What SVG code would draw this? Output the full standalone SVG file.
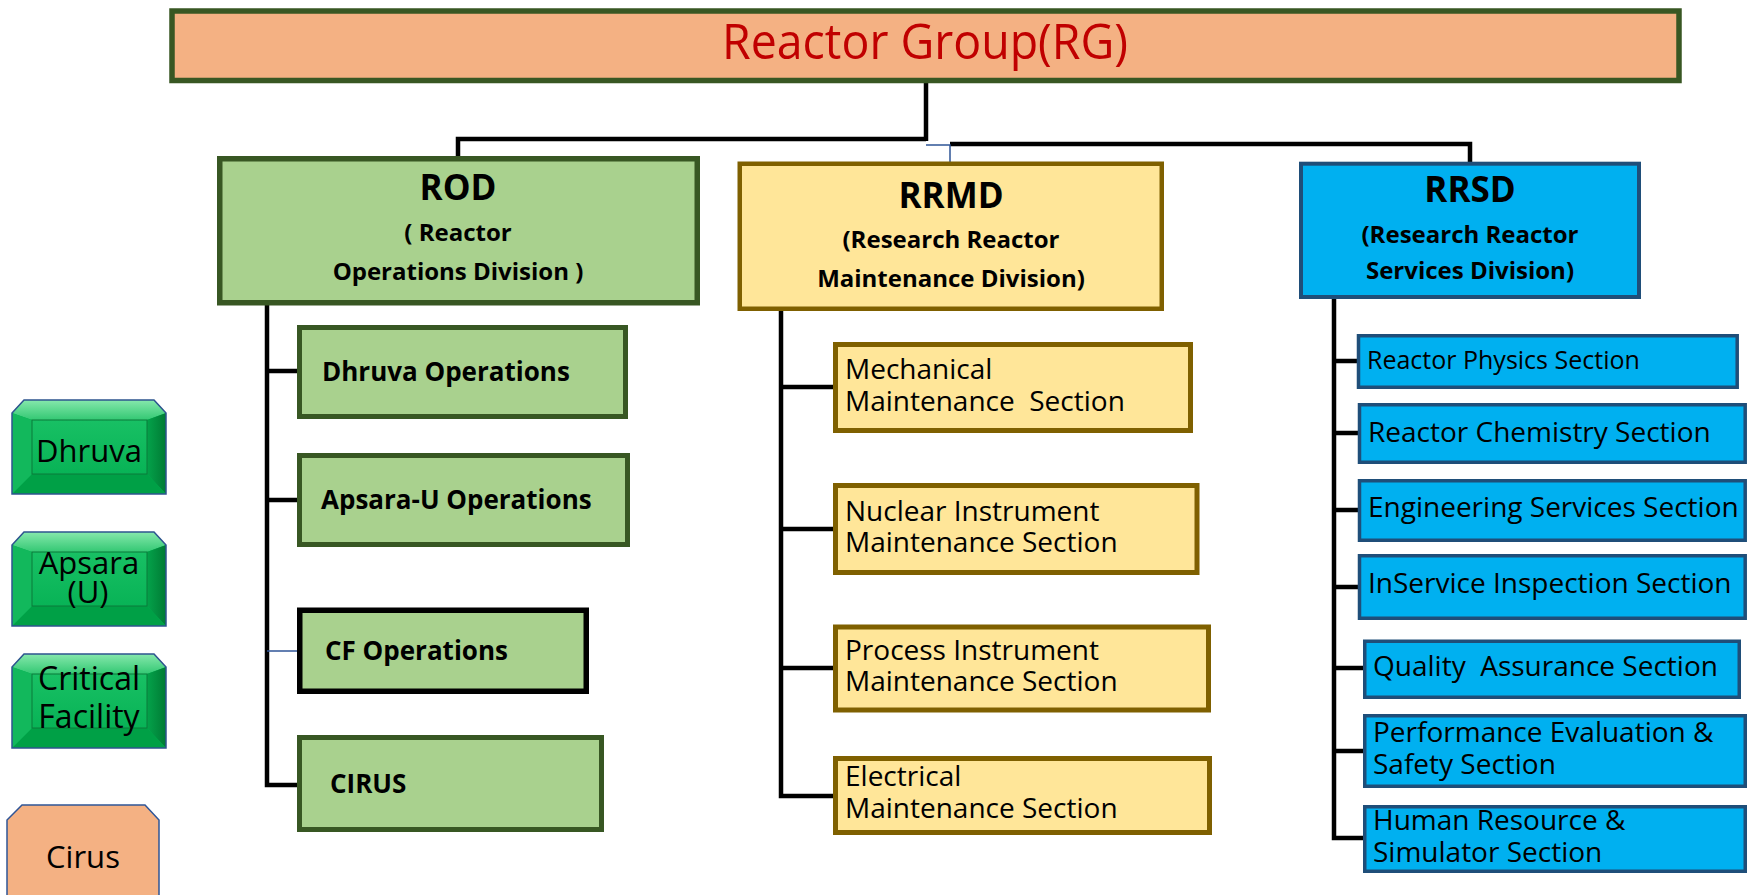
<svg xmlns="http://www.w3.org/2000/svg" xmlns:xlink="http://www.w3.org/1999/xlink" width="1748" height="895" viewBox="0 0 1748 895">
<style>
text{font-family:"Open Sans","Noto Sans","Liberation Sans",sans-serif;fill:#000}
.b{font-weight:700}
.hd{font-size:35px;font-weight:700;text-anchor:middle}
.sub{font-size:24px;font-weight:700;text-anchor:middle}
.rod{fill:#A9D18E;stroke:#385723;stroke-width:5}
.rrmd{fill:#FFE699;stroke:#7F6000;stroke-width:5}
.rrsd{fill:#00B0F0;stroke:#1F4E79;stroke-width:3.5}
.op{font-size:26px;font-weight:700}
.mt{font-size:28px}
.sv{font-size:28px}
.lg{text-anchor:middle}
.con{fill:none;stroke:#000;stroke-width:4.5}
.conb{fill:none;stroke:#2F5597;stroke-width:1.5}
</style>
<defs>
<linearGradient id="gtop" x1="0" y1="0" x2="0" y2="1">
<stop offset="0" stop-color="#86E8AC"/><stop offset="1" stop-color="#33C873"/>
</linearGradient>
<linearGradient id="gface" x1="0" y1="0" x2="0" y2="1">
<stop offset="0" stop-color="#18C064"/><stop offset="1" stop-color="#08B356"/>
</linearGradient>
<linearGradient id="gright" x1="0" y1="0" x2="1" y2="0">
<stop offset="0" stop-color="#04A24A"/><stop offset="1" stop-color="#007A34"/>
</linearGradient>
<g id="bevel">
<polygon points="12,0 142,0 154,13 154,94 0,94 0,13" fill="#00B050"/>
<polygon points="12,0 142,0 154,13 135,20 20,20 0,13" fill="url(#gtop)"/>
<polygon points="154,13 154,94 135,74 135,20" fill="url(#gright)"/>
<polygon points="0,94 154,94 135,74 20,74" fill="#00A046"/>
<polygon points="0,13 20,20 20,74 0,94" fill="#12B85C"/>
<rect x="20" y="20" width="115" height="54" fill="url(#gface)" stroke="#0B7A3B" stroke-width="1"/>
<polygon points="12,0 142,0 154,13 154,94 0,94 0,13" fill="none" stroke="#2E548F" stroke-width="1.5"/>
</g>
</defs>
<rect width="1748" height="895" fill="#fff"/>

<g id="connectors">
<path class="con" d="M926 83 V141 M926 139 H458 V157"/>
<path class="con" d="M950 144 H1470 V163"/>
<path class="conb" d="M926 145 H950 V162"/>
<path class="con" d="M267 305 V785 H298 M267 371 H298 M267 500 H298"/>
<path class="conb" d="M267 651 H298"/>
<path class="con" d="M781 311 V796 H834 M781 387 H834 M781 529 H834 M781 668 H834"/>
<path class="con" d="M1334 299 V838 H1364 M1334 361 H1358 M1334 433 H1359 M1334 510 H1359 M1334 587 H1359 M1334 668 H1364 M1334 751 H1364"/>
</g>

<g id="rg">
<rect x="172" y="11" width="1507" height="69.5" fill="#F4B183" stroke="#385723" stroke-width="5.5"/>
<text x="925" y="59" font-size="50" text-anchor="middle" textLength="406" lengthAdjust="spacingAndGlyphs" style="fill:#C00000">Reactor Group(RG)</text>
</g>

<g id="rod">
<rect class="rod" x="219.75" y="158.75" width="477.5" height="144" style="stroke-width:5.5"/>
<text class="hd" x="458" y="200">ROD</text>
<text class="sub" x="458" y="241" xml:space="preserve">( Reactor</text>
<text class="sub" x="458" y="280">Operations Division )</text>
</g>

<g id="rrmd">
<rect class="rrmd" x="739.75" y="163.75" width="422" height="145" style="stroke-width:4.5"/>
<text class="hd" x="951" y="208">RRMD</text>
<text class="sub" x="951" y="248">(Research Reactor</text>
<text class="sub" x="951" y="287">Maintenance Division)</text>
</g>

<g id="rrsd">
<rect class="rrsd" x="1301" y="163.7" width="338" height="133.3" style="stroke-width:4"/>
<text class="hd" x="1470" y="202">RRSD</text>
<text class="sub" x="1470" y="243">(Research Reactor</text>
<text class="sub" x="1470" y="279">Services Division)</text>
</g>

<g id="dhruva-ops">
<rect class="rod" x="299.5" y="327.5" width="326" height="89"/>
<text class="op" x="322" y="381">Dhruva Operations</text>
</g>
<g id="apsara-ops">
<rect class="rod" x="299.5" y="455.5" width="328" height="89"/>
<text class="op" x="321" y="509">Apsara-U Operations</text>
</g>
<g id="cf-ops">
<rect class="rod" x="299.75" y="610.25" width="286.5" height="81" style="stroke:#000;stroke-width:5.5"/>
<text class="op" x="325" y="660">CF Operations</text>
</g>
<g id="cirus-ops">
<rect class="rod" x="299.5" y="737.5" width="302" height="92"/>
<text class="op" x="330" y="793">CIRUS</text>
</g>

<g id="mech">
<rect class="rrmd" x="835.5" y="344.5" width="355" height="86"/>
<text class="mt" x="845" y="379">Mechanical</text>
<text class="mt" x="845" y="411" xml:space="preserve">Maintenance  Section</text>
</g>
<g id="nuclear">
<rect class="rrmd" x="835.5" y="485.5" width="361.5" height="87"/>
<text class="mt" x="845" y="521">Nuclear Instrument</text>
<text class="mt" x="845" y="552">Maintenance Section</text>
</g>
<g id="process">
<rect class="rrmd" x="835.5" y="627" width="373" height="83"/>
<text class="mt" x="845" y="660">Process Instrument</text>
<text class="mt" x="845" y="691">Maintenance Section</text>
</g>
<g id="electrical">
<rect class="rrmd" x="835.5" y="758.5" width="374" height="74"/>
<text class="mt" x="845" y="786">Electrical</text>
<text class="mt" x="845" y="817.5">Maintenance Section</text>
</g>

<g id="physics">
<rect class="rrsd" x="1358.5" y="335.75" width="378.7" height="51.5"/>
<text x="1367" y="369" font-size="25">Reactor Physics Section</text>
</g>
<g id="chemistry">
<rect class="rrsd" x="1359.5" y="404.75" width="385.7" height="57.5"/>
<text class="sv" x="1368" y="442">Reactor Chemistry Section</text>
</g>
<g id="engineering">
<rect class="rrsd" x="1359.5" y="480.75" width="385.7" height="59.5"/>
<text class="sv" x="1368" y="517">Engineering Services Section</text>
</g>
<g id="inservice">
<rect class="rrsd" x="1359.5" y="555.75" width="385.7" height="62.5"/>
<text class="sv" x="1368" y="593">InService Inspection Section</text>
</g>
<g id="quality">
<rect class="rrsd" x="1364.75" y="641.25" width="374.5" height="56"/>
<text class="sv" x="1373" y="676" xml:space="preserve">Quality  Assurance Section</text>
</g>
<g id="performance">
<rect class="rrsd" x="1364.75" y="715.75" width="380.5" height="70.5"/>
<text class="sv" x="1373" y="742">Performance Evaluation &amp;</text>
<text class="sv" x="1373" y="774">Safety Section</text>
</g>
<g id="human">
<rect class="rrsd" x="1364.75" y="806.75" width="380.5" height="64.5"/>
<text class="sv" x="1373" y="830">Human Resource &amp;</text>
<text class="sv" x="1373" y="862">Simulator Section</text>
</g>

<g id="legend-dhruva">
<use xlink:href="#bevel" x="12" y="400"/>
<text class="lg" x="89" y="462" font-size="31">Dhruva</text>
</g>
<g id="legend-apsara">
<use xlink:href="#bevel" x="12" y="532"/>
<text class="lg" x="89" y="574" font-size="31">Apsara</text>
<text class="lg" x="88" y="603" font-size="31">(U)</text>
</g>
<g id="legend-cf">
<use xlink:href="#bevel" x="12" y="654"/>
<text class="lg" x="89" y="690" font-size="32">Critical</text>
<text class="lg" x="89" y="728" font-size="32">Facility</text>
</g>
<g id="legend-cirus">
<polygon points="22,805 145,805 159,820 159,900 7,900 7,820" fill="#F4B183" stroke="#2F5597" stroke-width="1.5"/>
<text class="lg" x="83" y="868" font-size="31">Cirus</text>
</g>
</svg>
